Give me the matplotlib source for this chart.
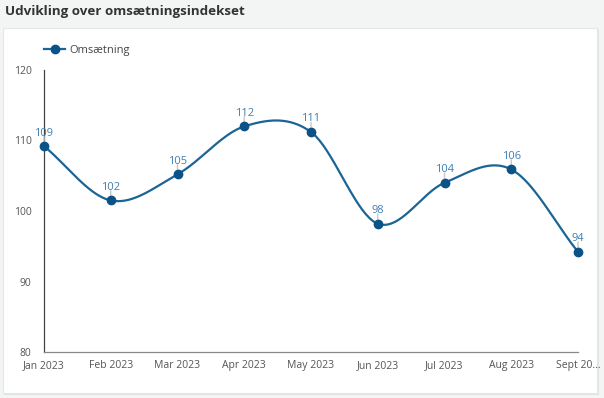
import numpy as np
import matplotlib
matplotlib.use("Agg")
import matplotlib.pyplot as plt
from matplotlib.patches import Rectangle
from matplotlib.lines import Line2D

plt.rcParams['font.family'] = ['Open Sans', 'DejaVu Sans']

# ---- data ----
categories = ["Jan 2023", "Feb 2023", "Mar 2023", "Apr 2023", "May 2023",
              "Jun 2023", "Jul 2023", "Aug 2023", "Sept 20..."]
values = [109.2, 101.5, 105.2, 112.0, 111.2, 98.2, 104.0, 105.9, 94.2]
yticks = [80, 90, 100, 110, 120]
series_name = "Omsætning"
title = "Udvikling over omsætningsindekset"

W, H = 604, 398
fig = plt.figure(figsize=(W / 100, H / 100), dpi=100)
fig.patch.set_facecolor("#f3f4f4")

# panel with subtle shadow
fig.patches.append(Rectangle((4 / W, 1 - 395 / H), 595 / W, 366 / H, transform=fig.transFigure,
                             facecolor="#e2e2e2", edgecolor="none", zorder=-10))
fig.patches.append(Rectangle((3 / W, 1 - 393 / H), 594 / W, 365 / H, transform=fig.transFigure,
                             facecolor="white", edgecolor="#e6e6e6", lw=0.8, zorder=-9))

fig.text(5 / W, 1 - 11 / H, title, fontsize=9.6, fontweight="bold", color="#333333",
         ha="left", va="center")

ax = fig.add_axes([44 / W, 1 - 352 / H, (578 - 44) / W, (352 - 70) / H])
ax.set_zorder(2)
ax.set_facecolor("none")

x = np.arange(len(values))
y = np.array(values, dtype=float)

# Catmull-Rom smooth curve through data points
def catmull_rom(px, py, n=40):
    P = np.column_stack([px, py]).astype(float)
    P = np.vstack([2 * P[0] - P[1], P, 2 * P[-1] - P[-2]])
    out = []
    t = np.linspace(0, 1, n)[:, None]
    for i in range(1, len(P) - 2):
        p0, p1, p2, p3 = P[i - 1], P[i], P[i + 1], P[i + 2]
        seg = 0.5 * ((2 * p1) + (-p0 + p2) * t + (2 * p0 - 5 * p1 + 4 * p2 - p3) * t ** 2
                     + (-p0 + 3 * p1 - 3 * p2 + p3) * t ** 3)
        out.append(seg if i == 1 else seg[1:])
    S = np.vstack(out)
    return S[:, 0], S[:, 1]

sx, sy = catmull_rom(x, y)
line_color = "#1b6496"
marker_color = "#0b5286"
ax.plot(sx, sy, color=line_color, lw=1.6, zorder=3, clip_on=False)
ax.plot(x, y, "o", color=marker_color, ms=6, zorder=4, clip_on=False)

# data labels with leader lines
for xi, yi in zip(x, y):
    ax.annotate("", xy=(xi, yi), xytext=(0, 7), textcoords="offset points",
                xycoords="data",
                arrowprops=dict(arrowstyle="-", color="#c8c8c8", lw=1.0, shrinkA=0, shrinkB=3))
    ax.annotate(f"{yi:.0f}", xy=(xi, yi), xytext=(0, 5.5), textcoords="offset points",
                ha="center", va="bottom", fontsize=8, color="#3f7fb3", zorder=5)

ax.set_xlim(0, len(values) - 1)
ax.set_ylim(80, 120)
ax.set_yticks(yticks)
ax.set_xticks(x)
ax.set_xticklabels(categories)
ax.tick_params(length=0, labelsize=7.5, labelcolor="#555555")
ax.tick_params(axis="y", pad=9)
ax.tick_params(axis="x", pad=6)
for s in ["top", "right"]:
    ax.spines[s].set_visible(False)
ax.spines["left"].set_color("#444444")
ax.spines["bottom"].set_color("#888888")
ax.spines["left"].set_linewidth(0.9)
ax.spines["bottom"].set_linewidth(0.9)

handle = Line2D([], [], color=line_color, lw=1.6, marker="o", ms=6,
                markerfacecolor=marker_color, markeredgecolor=marker_color)
fig.legend([handle], [series_name], loc="center left",
           bbox_to_anchor=(44 / W, 1 - 50 / H), frameon=False, fontsize=8,
           handlelength=1.9, handletextpad=0.4, borderpad=0, borderaxespad=0,
           labelcolor="#444444")

fig.savefig("out.png", dpi=100, facecolor=fig.get_facecolor())
